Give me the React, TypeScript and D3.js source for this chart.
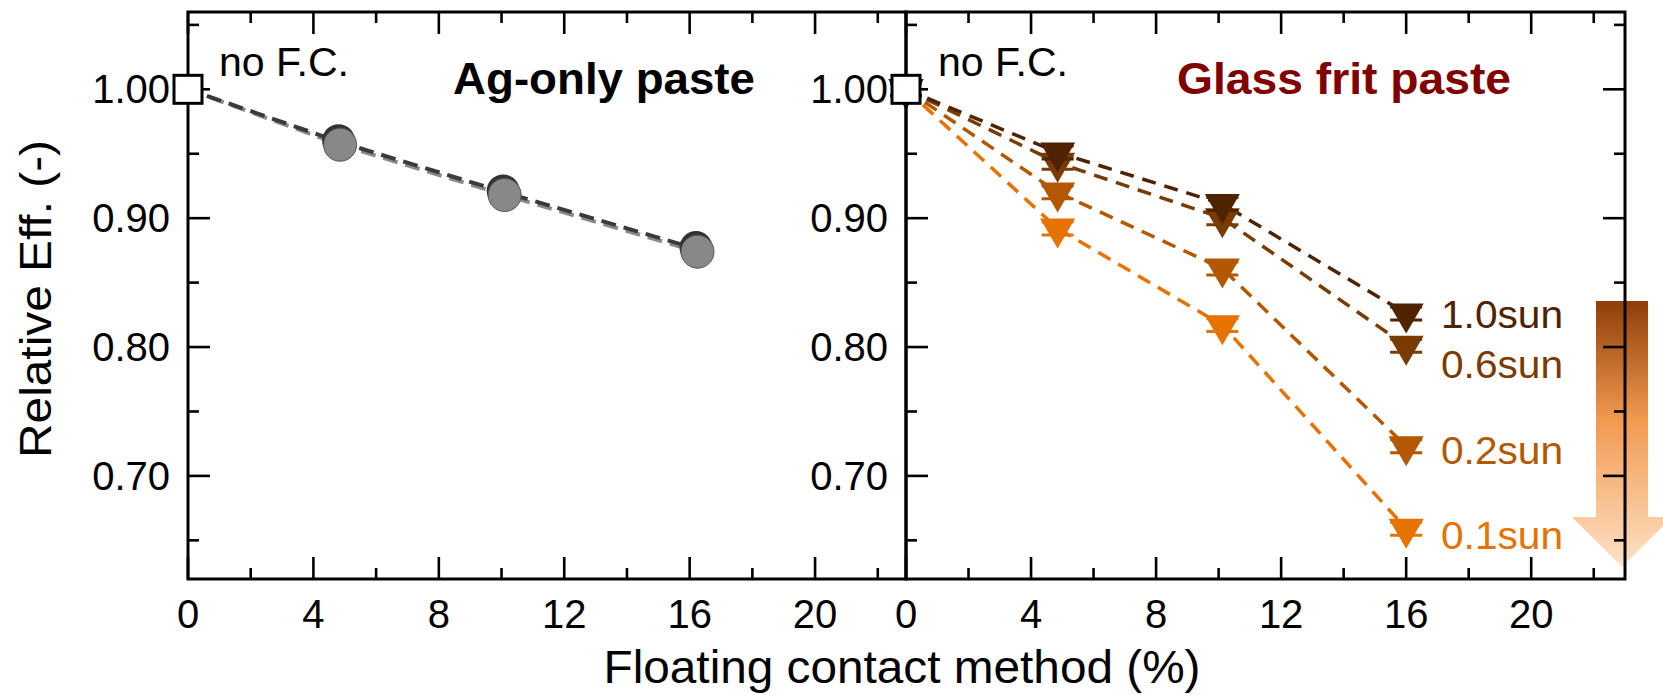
import React from "react";
import * as d3 from "d3";

// ---------- data ----------
const xTicksMajor = [0, 4, 8, 12, 16, 20];
const xTicksMinor = [2, 6, 10, 14, 18, 22];
const yTicksMajor = [0.7, 0.8, 0.9, 1.0];
const yTicksMinor = [0.65, 0.75, 0.85, 0.95, 1.05];
const yTickLabels = ["0.70", "0.80", "0.90", "1.00"];

const xAg = [0, 4.85, 10.1, 16.25];
const agSeriesA = [1.0, 0.959, 0.92, 0.876];
const agSeriesB = [1.0, 0.957, 0.918, 0.874];

const xGF = [0, 4.85, 10.12, 16.0];
const gf10 = [1.0, 0.951, 0.911, 0.826];
const gf06 = [1.0, 0.943, 0.9, 0.801];
const gf02 = [1.0, 0.92, 0.861, 0.723];
const gf01 = [1.0, 0.892, 0.817, 0.659];
const sunLabels = ["1.0sun", "0.6sun", "0.2sun", "0.1sun"];
const sunColors = ["#4f2300", "#7a3b00", "#b35800", "#e67200"];
const sunLabelY = [0.826, 0.787, 0.72, 0.654];

// ---------- layout ----------
const W = 1663;
const H = 695;
const top = 12;
const bottom = 579;
const leftX0 = 188;
const midX = 906;
const rightX1 = 1625;
const FONT = "'Liberation Sans', Arial, Helvetica, sans-serif";

const y = d3.scaleLinear().domain([0.62, 1.06]).range([bottom, top]);
const xL = d3.scaleLinear().domain([0, 22.9]).range([leftX0, midX]);
const xR = d3.scaleLinear().domain([0, 23]).range([midX, rightX1]);

const tri = "M-17.5,-10L17.5,-10L0,20Z";

function Frame({ x, x0, x1, rightTicks }: any) {
  const els: any[] = [];
  const sw = 2.6;
  xTicksMajor.forEach((t, i) => {
    const px = x(t);
    els.push(<line key={"bM" + i} x1={px} x2={px} y1={bottom} y2={bottom - 22} stroke="#000" strokeWidth={sw} />);
    els.push(<line key={"tM" + i} x1={px} x2={px} y1={top} y2={top + 22} stroke="#000" strokeWidth={sw} />);
    els.push(
      <text key={"xl" + i} x={px} y={628} textAnchor="middle" fontSize={40} fontFamily={FONT} fill="#000">
        {t}
      </text>
    );
  });
  xTicksMinor.forEach((t, i) => {
    const px = x(t);
    els.push(<line key={"bm" + i} x1={px} x2={px} y1={bottom} y2={bottom - 11} stroke="#000" strokeWidth={sw} />);
    els.push(<line key={"tm" + i} x1={px} x2={px} y1={top} y2={top + 11} stroke="#000" strokeWidth={sw} />);
  });
  yTicksMajor.forEach((t, i) => {
    const py = y(t);
    els.push(<line key={"lM" + i} x1={x0} x2={x0 + 22} y1={py} y2={py} stroke="#000" strokeWidth={sw} />);
    if (rightTicks)
      els.push(<line key={"rM" + i} x1={x1} x2={x1 - 22} y1={py} y2={py} stroke="#000" strokeWidth={sw} />);
    els.push(
      <text key={"yl" + i} x={x0 - 18} y={py + 14} textAnchor="end" fontSize={40} fontFamily={FONT} fill="#000">
        {yTickLabels[i]}
      </text>
    );
  });
  yTicksMinor.forEach((t, i) => {
    const py = y(t);
    els.push(<line key={"lm" + i} x1={x0} x2={x0 + 11} y1={py} y2={py} stroke="#000" strokeWidth={sw} />);
    if (rightTicks)
      els.push(<line key={"rm" + i} x1={x1} x2={x1 - 11} y1={py} y2={py} stroke="#000" strokeWidth={sw} />);
  });
  els.push(
    <rect key="frame" x={x0} y={top} width={x1 - x0} height={bottom - top} fill="none" stroke="#000" strokeWidth={3} />
  );
  return <g>{els}</g>;
}

export default function App() {
  const lineL = d3
    .line<number>()
    .x((_, i) => xL(xAg[i]))
    .y((d) => y(d));
  const lineR = d3
    .line<number>()
    .x((_, i) => xR(xGF[i]))
    .y((d) => y(d));

  const gfSeries = [gf10, gf06, gf02, gf01];
  const drawOrder = [3, 2, 1, 0];

  // arrow geometry
  const ax = 1622;
  const shaftHalf = 26;
  const headHalf = 50;
  const aTop = 301;
  const aHead = 517;
  const aTip = 567;
  const arrowPts = [
    [ax - shaftHalf, aTop],
    [ax + shaftHalf, aTop],
    [ax + shaftHalf, aHead],
    [ax + headHalf, aHead],
    [ax, aTip],
    [ax - headHalf, aHead],
    [ax - shaftHalf, aHead],
  ]
    .map((p) => p.join(","))
    .join(" ");

  return (
    <svg
      width={W}
      height={H}
      style={{ position: "absolute", left: 0, top: 0, background: "#fff" }}
      xmlns="http://www.w3.org/2000/svg"
    >
      <defs>
        <linearGradient id="arrowGrad" x1="0" y1="0" x2="0" y2="1">
          <stop offset="0" stopColor="#8e3e08" />
          <stop offset="0.45" stopColor="#f29a50" />
          <stop offset="1" stopColor="#fde2c8" />
        </linearGradient>
      </defs>
      <rect x={0} y={0} width={W} height={H} fill="#fff" />

      {/* arrow */}
      <polygon points={arrowPts} fill="url(#arrowGrad)" />

      {/* left panel data */}
      <path d={lineL(agSeriesB) || ""} fill="none" stroke="#8a8a8a" strokeWidth={4} strokeDasharray="15,8" />
      <path d={lineL(agSeriesA) || ""} fill="none" stroke="#3a3a3a" strokeWidth={4} strokeDasharray="15,8" strokeDashoffset={3} />
      {xAg.slice(1).map((xv, i) => (
        <g key={"c" + i}>
          <circle cx={xL(xv) - 1.5} cy={y(agSeriesA[i + 1]) - 1.5} r={16.5} fill="#333" />
          <circle cx={xL(xv)} cy={y(agSeriesB[i + 1])} r={16.5} fill="#888" stroke="#555" strokeWidth={1} />
        </g>
      ))}

      {/* right panel data */}
      {drawOrder.map((k) => (
        <path
          key={"l" + k}
          d={lineR(gfSeries[k]) || ""}
          fill="none"
          stroke={sunColors[k]}
          strokeWidth={3.5}
          strokeDasharray="14,9"
        />
      ))}
      {drawOrder.map((k) =>
        gfSeries[k].map((v, i) => {
          const px = xR(xGF[i]);
          const py = y(v);
          const e = 0.005;
          return (
            <g key={"m" + k + "-" + i} stroke={sunColors[k]} fill={sunColors[k]}>
              <line x1={px} x2={px} y1={y(v + e)} y2={y(v - e)} strokeWidth={3} />
              <line x1={px - 16} x2={px + 16} y1={y(v + e)} y2={y(v + e)} strokeWidth={3} />
              <line x1={px - 16} x2={px + 16} y1={y(v - e)} y2={y(v - e)} strokeWidth={3} />
              <path d={tri} transform={`translate(${px},${py})`} stroke="none" />
            </g>
          );
        })
      )}

      {/* sun labels */}
      {sunLabels.map((s, i) => (
        <text
          key={"s" + i}
          x={1441}
          y={y(sunLabelY[i]) + 14}
          fontSize={38}
          fontFamily={FONT}
          fill={sunColors[i]}
          textLength={122}
          lengthAdjust="spacingAndGlyphs"
        >
          {s}
        </text>
      ))}

      {/* frames */}
      <Frame x={xL} x0={leftX0} x1={midX} rightTicks={false} />
      <Frame x={xR} x0={midX} x1={rightX1} rightTicks={true} />

      {/* no F.C. squares */}
      <rect x={xL(0) - 14} y={y(1.0) - 14} width={28} height={28} fill="#fff" stroke="#000" strokeWidth={3} />
      <rect x={xR(0) - 14} y={y(1.0) - 14} width={28} height={28} fill="#fff" stroke="#000" strokeWidth={3} />

      {/* annotations */}
      <text x={219} y={76} fontSize={40} fontFamily={FONT} fill="#000" textLength={130} lengthAdjust="spacingAndGlyphs">
        no F.C.
      </text>
      <text x={938} y={76} fontSize={40} fontFamily={FONT} fill="#000" textLength={130} lengthAdjust="spacingAndGlyphs">
        no F.C.
      </text>
      <text x={453} y={94} fontSize={45} fontWeight="bold" fontFamily={FONT} fill="#000" textLength={302} lengthAdjust="spacingAndGlyphs">
        Ag-only paste
      </text>
      <text x={1177} y={94} fontSize={45} fontWeight="bold" fontFamily={FONT} fill="#800000" textLength={334} lengthAdjust="spacingAndGlyphs">
        Glass frit paste
      </text>

      {/* axis titles */}
      <text x={902} y={683} textAnchor="middle" fontSize={46} fontFamily={FONT} fill="#000" textLength={597} lengthAdjust="spacingAndGlyphs">
        Floating contact method (%)
      </text>
      <text
        transform={`translate(51,299) rotate(-90)`}
        textAnchor="middle"
        fontSize={45}
        fontFamily={FONT}
        fill="#000"
        textLength={318}
        lengthAdjust="spacingAndGlyphs"
      >
        Relative Eff. (-)
      </text>
    </svg>
  );
}
